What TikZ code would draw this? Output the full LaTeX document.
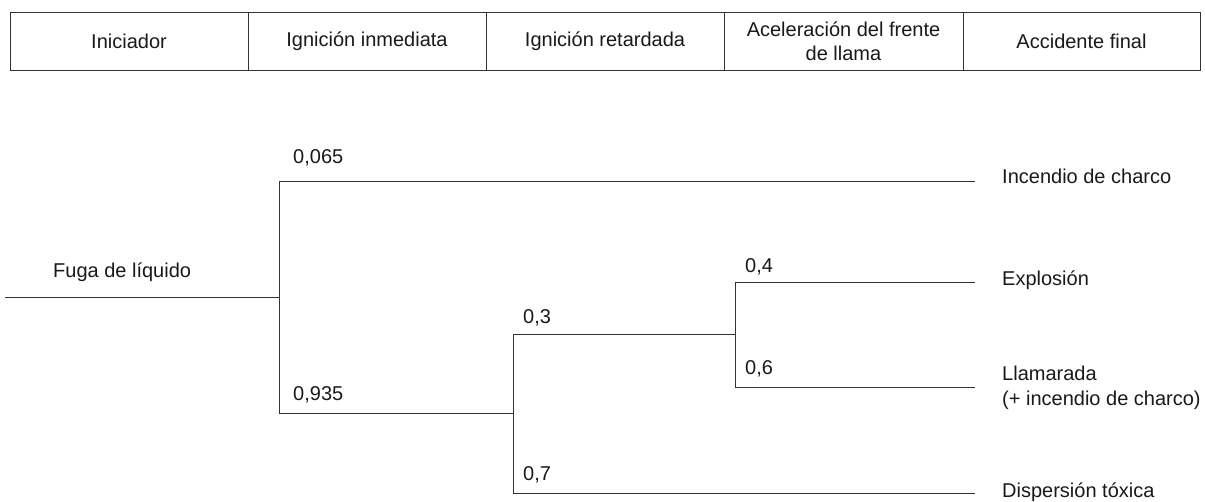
\documentclass[tikz,border=0pt]{standalone}
\usepackage{fontspec}
\setmainfont{Liberation Sans}
\begin{document}
\begin{tikzpicture}[x=1pt,y=-1pt,
  every node/.style={font=\fontsize{20}{24}\selectfont, inner sep=0pt, text=black!90},
  hdr/.style={draw=black!80, line width=1pt, minimum height=58pt, align=center},
  branch/.style={draw=black!80, line width=1pt},
  lbl/.style={anchor=base west},
  outc/.style={anchor=base west, align=left}]
\useasboundingbox (0,0) rectangle (1205,501);
% header
\node[hdr, minimum width=238pt] (h1) at (129,41) {Iniciador};
\node[hdr, minimum width=238pt] (h2) at (367,41) {Ignición inmediata};
\node[hdr, minimum width=238pt] (h3) at (605,41) {Ignición retardada};
\node[hdr, minimum width=239pt] (h4) at (843.5,41) {};
\node[hdr, minimum width=237pt] (h5) at (1081.5,41) {Accidente final};
\node[anchor=base] (h4a) at (843.5,36) {Aceleración del frente};
\node[anchor=base] (h4b) at (843.5,60) {de llama};
% tree coordinates
\coordinate (s) at (5,297);
\coordinate (j1) at (279,297);
\coordinate (u1) at (279,181);
\coordinate (d1) at (279,413);
\coordinate (j2) at (513,413);
\coordinate (u2) at (513,334);
\coordinate (d2) at (513,493);
\coordinate (j3) at (735,334);
\coordinate (u3) at (735,282);
\coordinate (d3) at (735,387);
\coordinate (e1) at (975,181);
\coordinate (e2) at (975,282);
\coordinate (e3) at (975,387);
\coordinate (e4) at (975,493);
\draw[branch] (s) -- (j1);
\draw[branch] (e1) -- (u1) -- (d1) -- (j2);
\draw[branch] (j3) -- (u2) -- (d2) -- (e4);
\draw[branch] (e2) -- (u3) -- (d3) -- (e3);
% labels
\node[lbl] (fuga) at (53,277) {Fuga de líquido};
\node[lbl] (p1) at (293,163) {0,065};
\node[lbl] (p2) at (293,400) {0,935};
\node[lbl] (p3) at (523,323) {0,3};
\node[lbl] (p4) at (523,480) {0,7};
\node[lbl] (p5) at (745,272) {0,4};
\node[lbl] (p6) at (745,374) {0,6};
\node[outc] (o1) at (1002,183) {Incendio de charco};
\node[outc] (o2) at (1002,285) {Explosión};
\node[lbl] (o3) at (1002,380) {Llamarada};
\node[lbl] (o3b) at (1002,405) {(+ incendio de charco)};
\node[outc] (o4) at (1002,497) {Dispersión tóxica};
\end{tikzpicture}
\end{document}
